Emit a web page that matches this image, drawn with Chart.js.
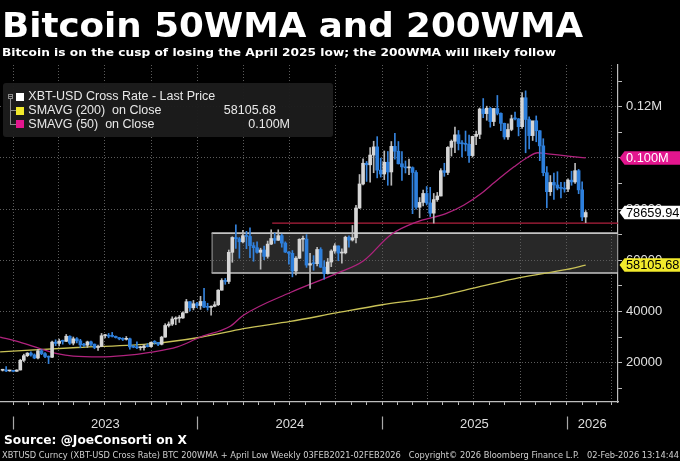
<!DOCTYPE html>
<html>
<head>
<meta charset="utf-8">
<script src="https://cdn.jsdelivr.net/npm/chart.js@4.4.1/dist/chart.umd.min.js"></script>
<style>
  html, body { margin:0; padding:0; background:#000; width:680px; height:461px; overflow:hidden; }
  #wrap { position:relative; width:680px; height:461px; }
  canvas { position:absolute; left:0; top:0; }
  .t { position:absolute; white-space:nowrap; transform-origin:0 0; color:#fff; }
  #title { left:2px; top:8px; font:bold 34.5px/34.5px "DejaVu Sans", sans-serif; }
  #sub { left:2px; top:47.5px; font:bold 10.8px/10.8px "DejaVu Sans", sans-serif; }
  #source { left:4px; top:434px; font:bold 12px/12px "DejaVu Sans", sans-serif; }
  #foot { left:1.7px; top:450.6px; font:8.4px/8.4px "Liberation Sans Narrow", "DejaVu Sans Condensed", "Liberation Sans", sans-serif; color:#d0d0d0; }
  #legend { position:absolute; left:3px; top:83px; width:330px; height:54px; background:rgba(28,28,28,0.96); border-radius:3px; }
  .lg { position:absolute; white-space:nowrap; font:12.5px/12.5px "Liberation Sans", sans-serif; color:#e8e8e8; }
  .sq { position:absolute; width:8px; height:8px; }
  .ln { position:absolute; background:#8a8a8a; }
</style>
</head>
<body>
<div id="wrap">
  <canvas id="c" width="680" height="461"></canvas>
  <div class="t" id="title">Bitcoin 50WMA and 200WMA</div>
  <div class="t" id="sub">Bitcoin is on the cusp of losing the April 2025 low; the 200WMA will likely follow</div>
  <div id="legend"></div>
  <div class="ln" style="left:8px;top:94px;width:5px;height:5px;background:none;border:1px solid #8a8a8a;box-sizing:border-box;"></div>
  <div class="ln" style="left:9px;top:96px;width:3px;height:1px;"></div>
  <div class="ln" style="left:10px;top:99px;width:1px;height:25.5px;"></div>
  <div class="ln" style="left:10px;top:110px;width:6px;height:1px;"></div>
  <div class="ln" style="left:10px;top:124px;width:6px;height:1px;"></div>
  <div class="sq" style="left:16px;top:92.7px;background:#ffffff;"></div>
  <div class="sq" style="left:16px;top:106.5px;background:#f2ea2c;"></div>
  <div class="sq" style="left:16px;top:120.2px;background:#e3168e;"></div>
  <div class="lg" id="l1" style="left:28.3px;top:90.1px;">XBT-USD Cross Rate - Last Price</div>
  <div class="lg" id="l2" style="left:28.3px;top:103.7px;">SMAVG (200)&nbsp; on Close</div>
  <div class="lg" id="l3" style="left:28.3px;top:117.7px;">SMAVG (50)&nbsp; on Close</div>
  <div class="lg" id="v2" style="right:404px;top:103.7px;">58105.68</div>
  <div class="lg" id="v3" style="right:390px;top:117.7px;">0.100M</div>
  <div class="t" id="source">Source: @JoeConsorti on X</div>
  <div class="t" id="foot">XBTUSD Curncy (XBT-USD Cross Rate) BTC 200WMA + April Low Weekly 03FEB2021-02FEB2026&nbsp;&nbsp; Copyright© 2026 Bloomberg Finance L.P.&nbsp;&nbsp; 02-Feb-2026 13:14:44</div>
</div>
<script>
// ---------- DATA (weekly bars, labelled by week-ending date) ----------
const weeks = [
'2022-12-11','2022-12-18','2022-12-25','2023-01-01','2023-01-08','2023-01-15','2023-01-22','2023-01-29',
'2023-02-05','2023-02-12','2023-02-19','2023-02-26','2023-03-05','2023-03-12','2023-03-19','2023-03-26',
'2023-04-02','2023-04-09','2023-04-16','2023-04-23','2023-04-30','2023-05-07','2023-05-14','2023-05-21',
'2023-05-28','2023-06-04','2023-06-11','2023-06-18','2023-06-25','2023-07-02','2023-07-09','2023-07-16',
'2023-07-23','2023-07-30','2023-08-06','2023-08-13','2023-08-20','2023-08-27','2023-09-03','2023-09-10',
'2023-09-17','2023-09-24','2023-10-01','2023-10-08','2023-10-15','2023-10-22','2023-10-29','2023-11-05',
'2023-11-12','2023-11-19','2023-11-26','2023-12-03','2023-12-10','2023-12-17','2023-12-24','2023-12-31',
'2024-01-07','2024-01-14','2024-01-21','2024-01-28','2024-02-04','2024-02-11','2024-02-18','2024-02-25',
'2024-03-03','2024-03-10','2024-03-17','2024-03-24','2024-03-31','2024-04-07','2024-04-14','2024-04-21',
'2024-04-28','2024-05-05','2024-05-12','2024-05-19','2024-05-26','2024-06-02','2024-06-09','2024-06-16',
'2024-06-23','2024-06-30','2024-07-07','2024-07-14','2024-07-21','2024-07-28','2024-08-04','2024-08-11',
'2024-08-18','2024-08-25','2024-09-01','2024-09-08','2024-09-15','2024-09-22','2024-09-29','2024-10-06',
'2024-10-13','2024-10-20','2024-10-27','2024-11-03','2024-11-10','2024-11-17','2024-11-24','2024-12-01',
'2024-12-08','2024-12-15','2024-12-22','2024-12-29','2025-01-05','2025-01-12','2025-01-19','2025-01-26',
'2025-02-02','2025-02-09','2025-02-16','2025-02-23','2025-03-02','2025-03-09','2025-03-16','2025-03-23',
'2025-03-30','2025-04-06','2025-04-13','2025-04-20','2025-04-27','2025-05-04','2025-05-11','2025-05-18',
'2025-05-25','2025-06-01','2025-06-08','2025-06-15','2025-06-22','2025-06-29','2025-07-06','2025-07-13',
'2025-07-20','2025-07-27','2025-08-03','2025-08-10','2025-08-17','2025-08-24','2025-08-31','2025-09-07',
'2025-09-14','2025-09-21','2025-09-28','2025-10-05','2025-10-12','2025-10-19','2025-10-26','2025-11-02',
'2025-11-09','2025-11-16','2025-11-23','2025-11-30','2025-12-07','2025-12-14','2025-12-21','2025-12-28',
'2026-01-04','2026-01-11','2026-01-18','2026-01-25','2026-02-01','2026-02-08'];

const open = [
17000,17100,16750,16850,16600,17100,20900,22700,23700,23000,21800,24600,23500,22400,22100,28000,
27500,28400,28300,30300,27600,29300,28500,26900,26800,28100,27200,25900,26300,30500,30600,30300,
30250,29800,29300,29100,29300,26100,26000,25800,25850,26500,26250,27950,27900,27150,29950,34500,
35050,37050,37350,37450,39450,43800,41400,43000,42300,43900,41700,41600,42000,42600,48300,52100,
51700,63100,68900,68400,67200,69600,69300,65700,64900,63100,64000,61500,66300,68500,67800,69600,
66700,63200,62700,55800,60800,68200,68250,58100,58700,58650,64200,57300,54800,59300,63600,65600,
62800,62900,69000,67900,68800,80400,89800,97900,97300,101100,104300,95200,93700,98300,94500,104500,
102600,97700,96500,96100,96200,94300,80700,82600,86100,82400,78400,83700,85100,95000,94300,104100,
106500,109000,105600,105500,105300,100900,108400,109200,119100,117300,119400,114200,119300,117400,113500,108200,
111100,115300,115250,112200,123500,115000,108700,114500,110600,104700,94200,86800,90400,89400,88200,88100,
87800,91300,90600,95000,87500,76900];

const high = [
17400,18400,17000,16950,17200,21300,23300,23900,24200,23400,25200,25100,23900,22600,28400,28900,
29200,28800,31000,30500,30000,29800,29100,27500,28400,28400,27300,26800,31400,31000,31400,31800,
30400,29800,29700,30200,29600,26800,28100,26400,27000,27400,28000,28600,27900,30300,35200,35900,
37900,37900,38400,39800,44700,43800,44300,43600,45900,49000,43200,42200,43800,48500,52800,52900,
64000,69200,73800,68900,71700,71300,72700,66900,67200,64700,65500,67500,71900,70600,71900,70200,
67200,63400,63800,61400,68400,69400,70000,62700,61800,65000,64900,59800,60700,64100,66500,65600,
64500,69400,69500,73600,81500,93500,99600,98600,104000,106500,108300,99900,102700,102500,106400,109600,
106400,102500,98800,99500,96500,95000,84500,87400,88800,88500,86100,86500,95800,97900,104400,107000,
112000,110700,106800,110500,108900,108500,110500,119500,123200,120200,119800,119300,124400,117600,113600,113300,
116700,117900,115400,125500,126200,116000,114000,116400,110700,107500,96600,93100,94100,94600,90400,90500,
91800,94800,97900,95500,90600,79400];

const low = [
16700,16500,16600,16400,16550,17100,20400,22300,22500,21500,21400,23100,21900,19600,21900,26600,
26500,27200,28200,27100,26900,27700,25800,26300,25900,26600,25400,24800,26300,29600,29700,30000,
29600,28900,28600,28800,25200,25800,25400,24900,24900,26100,26000,27200,26600,26900,29900,33900,
34500,34800,35700,37300,39450,40200,40600,41500,40800,41500,40500,38500,41800,42300,48300,50600,
50900,59200,64600,60800,66800,64500,61000,59600,62800,56500,60200,60800,66100,66600,67700,65100,
63000,58500,53500,54300,60600,63500,57200,49000,56100,57800,57200,52600,54600,57500,62700,59800,
58900,62500,65100,67500,66800,80200,89400,90800,90500,94200,92200,92500,91500,89300,89300,99500,
97600,91200,94100,93400,78200,80000,76600,81200,81600,77100,74500,83000,85100,92800,93400,100700,
102000,103100,100400,102700,98200,100300,105200,107500,115700,114700,112000,112600,116800,110600,107300,107200,
110600,114800,108600,111500,102000,103500,106800,106300,98900,93000,80500,85300,83800,87500,84400,86600,
86800,89300,90000,86000,75500,74700];

const close = [
17100,16750,16850,16600,17100,20900,22700,23700,23000,21800,24600,23500,22400,22100,28000,27500,
28400,28300,30300,27600,29300,28500,26900,26800,28100,27200,25900,26300,30500,30600,30300,30250,
29800,29300,29100,29300,26100,26000,25800,25850,26500,26250,27950,27900,27150,29950,34500,35050,
37050,37350,37450,39450,43800,41400,43000,42300,43900,41700,41600,42000,42600,48300,52100,51700,
63100,68900,68400,67200,69600,69300,65700,64900,63100,64000,61500,66300,68500,67800,69600,66700,
63200,62700,55800,60800,68200,68250,58100,58700,58650,64200,57300,54800,59300,63600,65600,62800,
62900,69000,67900,68800,80400,89800,97900,97300,101100,104300,95200,93700,98300,94500,104500,102600,
97700,96500,96100,96200,94300,80700,82600,86100,82400,78400,83700,85100,95000,94300,104100,106500,
109000,105600,105500,105300,100900,108400,109200,119100,117300,119400,114200,119300,117400,113500,108200,111100,
115300,115250,112200,123500,115000,108700,114500,110600,104700,94200,86800,90400,89400,88200,88100,87800,
91300,90600,95000,87500,76900,78659.94];

// 200-week SMA
const ma200Dates = ['2022-12-06','2023-05-08','2023-10-05','2024-01-07','2024-03-06','2024-04-01','2024-07-03',
  '2024-10-02','2025-01-01','2025-04-03','2025-07-01','2025-09-30','2026-01-02','2026-02-08'];
const ma200Vals = [24150,25900,27400,29900,32200,33300,36100,39400,42600,45200,49100,53200,56400,58105.68];

// 50-week SMA
const ma50Dates = ['2022-12-06','2023-01-14','2023-02-23','2023-03-29','2023-04-30','2023-06-22','2023-08-07',
  '2023-09-29','2023-11-22','2024-01-07','2024-03-06','2024-04-01','2024-07-03','2024-10-02','2024-11-25',
  '2025-01-18','2025-03-08','2025-05-07','2025-06-12','2025-07-16','2025-08-05','2025-09-19','2025-10-17',
  '2025-11-05','2025-11-25','2026-01-04','2026-02-08'];
const ma50Vals = [30000,28000,25500,23500,22500,22200,22700,24000,26100,30000,34200,38500,47400,54800,59800,
  70000,74800,78200,81600,86100,89400,96500,100350,102000,101600,100700,100000];

// annotations
const aprilLow = 74500;           // April 2025 low line
const aprilLowFrom = '2024-05-28';
const rangeBox = [55000, 70600];  // 2024 consolidation range
const rangeFrom = '2024-01-29';

// axes
const yTicks = [10000,20000,30000,40000,50000,60000,70000,80000,90000,100000,110000,120000,130000];
const yearLabels = ['2023','2024','2025','2026'];
const yMin = 4600, yMax = 136300;
const DAY = 86400000;
const T0 = Date.parse('2023-01-01');
const xMin = T0 - 26.2*DAY, xMax = T0 + 1198*DAY;

const monthTicks = [];
for (let y = 2023; y <= 2026; y++) for (let m = 0; m < 12; m++) {
  const v = Date.UTC(y, m, 1); if (v >= xMin && v <= xMax) monthTicks.push(v);
}
const isQuarter = v => new Date(v).getUTCMonth() % 3 === 0;
const fmtY = v => v >= 100000 ? (v/1e6).toFixed(2) + 'M' : String(v);

const UP_BODY = '#d6d6d6', DN_BODY = '#2d7fdc', UP_WICK = '#b8b8b8', DN_WICK = '#3583dc';

const annot = {
  id: 'annot',
  beforeDatasetsDraw(chart) {
    const {ctx, chartArea: ca, scales: {x, y}} = chart;
    ctx.save();
    ctx.beginPath(); ctx.rect(ca.left, ca.top, ca.right - ca.left, ca.bottom - ca.top); ctx.clip();
    const bx = x.getPixelForValue(Date.parse(rangeFrom));
    const yt = y.getPixelForValue(rangeBox[1]), yb = y.getPixelForValue(rangeBox[0]);
    ctx.fillStyle = 'rgba(88,88,88,0.45)';
    ctx.fillRect(bx, yt, ca.right - bx, yb - yt);
    ctx.strokeStyle = '#c4c4c4'; ctx.lineWidth = 1.6;
    ctx.beginPath(); ctx.moveTo(bx, yt); ctx.lineTo(ca.right, yt); ctx.moveTo(bx, yb); ctx.lineTo(ca.right, yb); ctx.stroke();
    ctx.lineWidth = 1; ctx.strokeStyle = '#9a9a9a';
    ctx.beginPath(); ctx.moveTo(bx + 0.5, yt); ctx.lineTo(bx + 0.5, yb); ctx.stroke();
    const rx = x.getPixelForValue(Date.parse(aprilLowFrom)), ry = y.getPixelForValue(aprilLow);
    ctx.strokeStyle = '#b0203e'; ctx.lineWidth = 1.3;
    ctx.beginPath(); ctx.moveTo(rx, ry); ctx.lineTo(ca.right, ry); ctx.stroke();
    ctx.restore();
  },
  afterDraw(chart) {
    const {ctx, chartArea: ca, scales: {x, y}} = chart;
    ctx.save();
    ctx.strokeStyle = '#a8a8a8'; ctx.lineWidth = 1.2;
    const bounds = yearLabels.map(s => Date.parse(s + '-01-01'));
    bounds.forEach(b => {
      const px = Math.round(x.getPixelForValue(b)) + 0.5;
      ctx.beginPath(); ctx.moveTo(px, 416.5); ctx.lineTo(px, 429.5); ctx.stroke();
    });
    ctx.fillStyle = '#dedede'; ctx.font = '13px "Liberation Sans"';
    ctx.textAlign = 'center'; ctx.textBaseline = 'middle';
    yearLabels.forEach((s, i) => {
      const a = bounds[i], b = i + 1 < bounds.length ? bounds[i + 1] : xMax;
      ctx.fillText(s, x.getPixelForValue((a + b) / 2), 424);
    });
    const tag = (v, text, bg, fg) => {
      const py = y.getPixelForValue(v), x0 = ca.right + 1.5, h = 13.5;
      ctx.fillStyle = bg;
      ctx.beginPath(); ctx.moveTo(x0, py); ctx.lineTo(x0 + 5, py - h/2); ctx.lineTo(680, py - h/2);
      ctx.lineTo(680, py + h/2); ctx.lineTo(x0 + 5, py + h/2); ctx.closePath(); ctx.fill();
      ctx.fillStyle = fg; ctx.font = '12.8px "Liberation Sans"'; ctx.textAlign = 'left'; ctx.textBaseline = 'middle';
      ctx.fillText(text, x0 + 6.5, py + 0.5);
    };
    const m50 = ma50Vals[ma50Vals.length - 1], m200 = ma200Vals[ma200Vals.length - 1], last = close[close.length - 1];
    tag(m50, (m50/1e6).toFixed(3) + 'M', '#e3168e', '#ffffff');
    tag(last, last.toFixed(2), '#ffffff', '#000000');
    tag(m200, m200.toFixed(2), '#f2ea2c', '#000000');
    ctx.restore();
  }
};

const xs = weeks.map(d => Date.parse(d));
const up = weeks.map((d, i) => close[i] >= open[i]);

new Chart(document.getElementById('c'), {
  type: 'bar',
  data: {
    datasets: [
      { type: 'line', label: 'SMAVG (200)', data: ma200Dates.map((d, i) => ({x: Date.parse(d), y: ma200Vals[i]})),
        borderColor: '#c9c257', borderWidth: 1.3, pointRadius: 0, cubicInterpolationMode: 'monotone', order: 4 },
      { type: 'line', label: 'SMAVG (50)', data: ma50Dates.map((d, i) => ({x: Date.parse(d), y: ma50Vals[i]})),
        borderColor: '#b0237e', borderWidth: 1.3, pointRadius: 0, cubicInterpolationMode: 'monotone', order: 3 },
      { type: 'bar', label: 'wick', data: xs.map((t, i) => ({x: t, y: [low[i], high[i]]})),
        backgroundColor: up.map(u => u ? UP_WICK : DN_WICK), barThickness: 1, grouped: false, order: 2 },
      { type: 'bar', label: 'body', data: xs.map((t, i) => ({x: t, y: [open[i], close[i]]})),
        backgroundColor: up.map(u => u ? UP_BODY : DN_BODY), barThickness: 3, minBarLength: 1, grouped: false, order: 1 }
    ]
  },
  options: {
    responsive: false, animation: false,
    layout: { padding: { top: 65, left: 0, right: 0, bottom: 0 } },
    plugins: { legend: { display: false }, tooltip: { enabled: false } },
    scales: {
      x: {
        type: 'linear', min: xMin, max: xMax, offset: false,
        afterBuildTicks: s => { s.ticks = monthTicks.map(v => ({value: v})); },
        afterFit: s => { s.height = 59; },
        ticks: { autoSkip: false, maxRotation: 0, callback: () => '', padding: 0 },
        grid: { offset: false, color: c => (c.tick && isQuarter(c.tick.value)) ? '#5c5c5c' : 'rgba(0,0,0,0)',
                tickColor: '#bdbdbd', tickLength: 3, tickBorderDash: [], lineWidth: 1 },
        border: { display: true, color: '#bdbdbd', width: 1.2, dash: [1, 2] }
      },
      y: {
        type: 'linear', position: 'right', min: yMin, max: yMax,
        afterBuildTicks: s => { s.ticks = yTicks.map(v => ({value: v})); },
        afterFit: s => { s.width = 62; },
        ticks: { autoSkip: false, callback: v => v % 20000 === 0 ? fmtY(v) : '', color: '#e0e0e0',
                 font: { family: 'Liberation Sans', size: 13 }, padding: 4 },
        grid: { color: c => (c.tick && c.tick.value % 20000 === 0) ? '#5c5c5c' : 'rgba(0,0,0,0)',
                tickColor: '#bdbdbd', tickLength: 4, tickBorderDash: [], lineWidth: 1 },
        border: { display: true, color: '#bdbdbd', width: 1.2, dash: [1, 2] }
      }
    }
  },
  plugins: [annot]
});

function fit(id, w) {
  const el = document.getElementById(id);
  el.style.transform = 'none';
  const r = el.getBoundingClientRect().width;
  if (r > 0) el.style.transform = 'scaleX(' + (w / r) + ')';
}
function fitAll() {
  fit('title', 581); fit('sub', 554); fit('source', 183); fit('foot', 677);
}
fitAll();
if (document.fonts && document.fonts.ready) document.fonts.ready.then(fitAll);
</script>
</body>
</html>
